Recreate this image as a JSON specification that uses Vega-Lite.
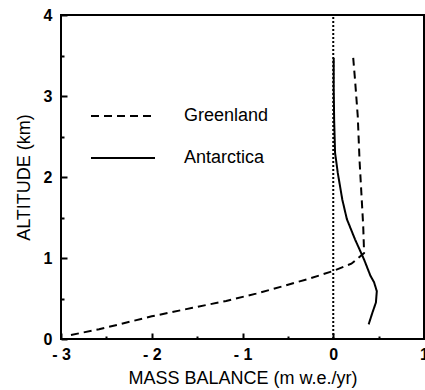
{
  "$schema": "https://vega.github.io/schema/vega-lite/v6.json",
  "autosize": {"type": "none"},
  "width": 363,
  "height": 324,
  "padding": {"left": 61, "top": 15, "right": 1, "bottom": 51},
  "background": "white",
  "config": {
    "view": {"stroke": "black", "strokeWidth": 2},
    "font": "Liberation Sans",
    "axis": {
      "domain": false,
      "grid": false,
      "zindex": 1,
      "tickColor": "black",
      "tickWidth": 2,
      "labelColor": "black",
      "titleColor": "black",
      "labelFontSize": 16,
      "labelFontWeight": "bold",
      "titleFontSize": 18,
      "titleFontWeight": "normal"
    }
  },
  "data": {
    "values": [
      {"region": "Greenland", "i": 1, "mb": -2.89, "alt": 0.05},
      {"region": "Greenland", "i": 2, "mb": -2.58, "alt": 0.12},
      {"region": "Greenland", "i": 3, "mb": -2.0, "alt": 0.28},
      {"region": "Greenland", "i": 4, "mb": -1.55, "alt": 0.385},
      {"region": "Greenland", "i": 5, "mb": -1.18, "alt": 0.47},
      {"region": "Greenland", "i": 6, "mb": -0.85, "alt": 0.56},
      {"region": "Greenland", "i": 7, "mb": -0.56, "alt": 0.65},
      {"region": "Greenland", "i": 8, "mb": -0.25, "alt": 0.75},
      {"region": "Greenland", "i": 9, "mb": 0.0, "alt": 0.84},
      {"region": "Greenland", "i": 10, "mb": 0.2, "alt": 0.93},
      {"region": "Greenland", "i": 11, "mb": 0.34, "alt": 1.06},
      {"region": "Greenland", "i": 12, "mb": 0.33, "alt": 1.4},
      {"region": "Greenland", "i": 13, "mb": 0.31, "alt": 1.8},
      {"region": "Greenland", "i": 14, "mb": 0.29, "alt": 2.2},
      {"region": "Greenland", "i": 15, "mb": 0.27, "alt": 2.75},
      {"region": "Greenland", "i": 16, "mb": 0.24, "alt": 3.2},
      {"region": "Greenland", "i": 17, "mb": 0.22, "alt": 3.47},
      {"region": "Antarctica", "i": 1, "mb": 0.39, "alt": 0.18},
      {"region": "Antarctica", "i": 2, "mb": 0.43, "alt": 0.32},
      {"region": "Antarctica", "i": 3, "mb": 0.47, "alt": 0.45},
      {"region": "Antarctica", "i": 4, "mb": 0.48, "alt": 0.59},
      {"region": "Antarctica", "i": 5, "mb": 0.45, "alt": 0.7},
      {"region": "Antarctica", "i": 6, "mb": 0.41, "alt": 0.78},
      {"region": "Antarctica", "i": 7, "mb": 0.34, "alt": 0.98},
      {"region": "Antarctica", "i": 8, "mb": 0.24, "alt": 1.23},
      {"region": "Antarctica", "i": 9, "mb": 0.15, "alt": 1.48},
      {"region": "Antarctica", "i": 10, "mb": 0.1, "alt": 1.72},
      {"region": "Antarctica", "i": 11, "mb": 0.05, "alt": 2.05},
      {"region": "Antarctica", "i": 12, "mb": 0.02, "alt": 2.3},
      {"region": "Antarctica", "i": 13, "mb": 0.01, "alt": 2.7},
      {"region": "Antarctica", "i": 14, "mb": 0.005, "alt": 3.1},
      {"region": "Antarctica", "i": 15, "mb": 0.005, "alt": 3.47},
      {"region": "zero", "i": 1, "mb": 0, "alt": 0},
      {"region": "zero", "i": 2, "mb": 0, "alt": 4}
    ]
  },
  "mark": {"type": "line", "color": "black", "strokeWidth": 2},
  "encoding": {
    "x": {
      "field": "mb", "type": "quantitative",
      "scale": {"domain": [-3, 1], "nice": false, "zero": false},
      "axis": {
        "title": "MASS BALANCE (m w.e./yr)",
        "values": [-3, -2.5, -2, -1.5, -1, -0.5, 0, 0.5, 1],
        "labelExpr": "datum.value % 1 != 0 ? '' : (datum.value < 0 ? '- ' + abs(datum.value) : '' + datum.value)",
        "tickSize": {"condition": {"test": "datum.value % 1 != 0", "value": -3}, "value": -6},
        "labelPadding": 13,
        "labelFlush": false,
        "titlePadding": 7
      }
    },
    "y": {
      "field": "alt", "type": "quantitative",
      "scale": {"domain": [0, 4], "nice": false},
      "axis": {
        "title": "ALTITUDE (km)",
        "values": [0, 0.5, 1, 1.5, 2, 2.5, 3, 3.5, 4],
        "labelExpr": "datum.value % 1 != 0 ? '' : '' + datum.value",
        "tickSize": {"condition": {"test": "datum.value % 1 != 0", "value": -3}, "value": -6},
        "labelPadding": 15,
        "labelFlush": false,
        "titlePadding": 10
      }
    },
    "strokeDash": {
      "field": "region", "type": "nominal",
      "scale": {"domain": ["Greenland", "Antarctica", "zero"], "range": [[8, 5], [1, 0], [2, 2]]},
      "legend": {
        "values": ["Greenland", "Antarctica"],
        "title": null,
        "orient": "none",
        "legendX": 29,
        "legendY": 68,
        "padding": 0,
        "symbolType": "stroke",
        "symbolSize": 4096,
        "symbolStrokeWidth": 2,
        "symbolStrokeColor": "black",
        "labelFontSize": 18,
        "labelColor": "black",
        "labelOffset": 28,
        "rowPadding": -36
      }
    },
    "order": {"field": "i", "type": "quantitative"}
  }
}
